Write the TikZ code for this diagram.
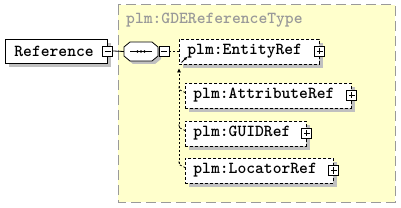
\documentclass[tikz,border=0pt]{standalone}
\usepackage{fontspec}
\usetikzlibrary{shadows,arrows.meta,calc}
\definecolor{panel}{HTML}{FFFFCC}
\definecolor{panelborder}{HTML}{9A9A9A}
\definecolor{shadegray}{HTML}{C0C0C0}
\definecolor{titlegray}{HTML}{999999}
\begin{document}
\begin{tikzpicture}[x=1pt,y=-1pt,
  font=\fontsize{16.8}{17}\selectfont\ttfamily\bfseries,
  shd/.style={general shadow={fill=shadegray, shadow xshift=4pt, shadow yshift=-4pt}},
  elbox/.style={draw, dash pattern=on 3pt off 2pt, line width=0.8pt, fill=white, shd,
    minimum height=25pt, inner xsep=8pt, inner ysep=0pt, align=left, anchor=west},
  pmbox/.style={draw, solid, line width=0.8pt, fill=white, minimum size=10pt, inner sep=0pt},
  minusbox/.style={pmbox, path picture={
    \draw[line width=0.8pt] ([xshift=2pt]path picture bounding box.west) -- ([xshift=-2pt]path picture bounding box.east);}},
  plusbox/.style={pmbox, path picture={
    \draw[line width=0.8pt] ([xshift=2pt]path picture bounding box.west) -- ([xshift=-2pt]path picture bounding box.east);
    \draw[line width=0.8pt] ([yshift=-2pt]path picture bounding box.north) -- ([yshift=2pt]path picture bounding box.south);}},
  subst/.style={line width=0.8pt, dash pattern=on 2pt off 2pt}
]
\useasboundingbox (0,0) rectangle (401,208);
% panel
\draw[fill=panel, draw=panelborder, line width=1pt, dash pattern=on 10pt off 5pt] (118,5) rectangle (395,202);
\node[anchor=base west, text=titlegray, inner sep=0pt] (title) at (126,24) {plm:GDEReferenceType};
% Reference
\node[draw, solid, line width=0.8pt, fill=white, shd, minimum height=24pt, inner xsep=9pt, inner ysep=0pt,
  text width=84pt, align=left, anchor=west] (ref) at (5,51) {Reference};
\node[minusbox] (refm) at (ref.east) {};
% sequence compositor
\node[minimum width=34pt, minimum height=19pt, inner sep=0pt] (seq) at (141,51.5) {};
\fill[shadegray] (133,45) -- (155,45) -- (161,50) -- (161,59) -- (155,64) -- (133,64) -- (127,59) -- (127,50) -- cycle;
\draw[line width=0.8pt, fill=white] (130,42) -- (152,42) -- (158,47) -- (158,56) -- (152,61) -- (130,61) -- (124,56) -- (124,47) -- cycle;
\draw[line width=0.8pt] (130,51.5) -- (152,51.5);
\foreach \xx in {137.5,141,144.5} \fill (\xx,51.5) circle (1.4pt);
\node[minusbox] (seqm) at (164,51.5) {};
\draw[line width=0.8pt] (refm.east) -- (seq.west);
% elements
\node[elbox, text width=124pt] (ent) at (179,51.5) {plm:EntityRef};
\node[plusbox] (entp) at (ent.east) {};
\node[elbox, text width=150pt] (att) at (185,95.5) {plm:AttributeRef};
\node[plusbox] (attp) at (att.east) {};
\node[elbox, text width=105pt] (guid) at (185,133.5) {plm:GUIDRef};
\node[plusbox] (guidp) at (guid.east) {};
\node[elbox, text width=132pt] (loc) at (185,170.5) {plm:LocatorRef};
\node[plusbox] (locp) at (loc.east) {};
\draw[subst] (seqm.east) -- (ent.west);
% reference arrow in entity box
\coordinate (ra1) at (181.5,62.5);
\coordinate (ra2) at (187,57);
\draw[line width=0.8pt, -{Triangle[length=3pt,width=3pt]}] (ra1) -- (ra2);
% substitution group line
\coordinate (vtop) at (179,68.5);
\coordinate (vbot) at (179,164);
\draw[subst, -{Triangle[length=4pt,width=3.5pt]}] (vbot) -- (vtop);
\foreach \n in {att,guid,loc}
  \draw[subst] ($(\n.west)+(-6,-9)$) -- ($(\n.west)+(-6,-6)$) -- ($(\n.west)+(0,-3)$);
\end{tikzpicture}
\end{document}
